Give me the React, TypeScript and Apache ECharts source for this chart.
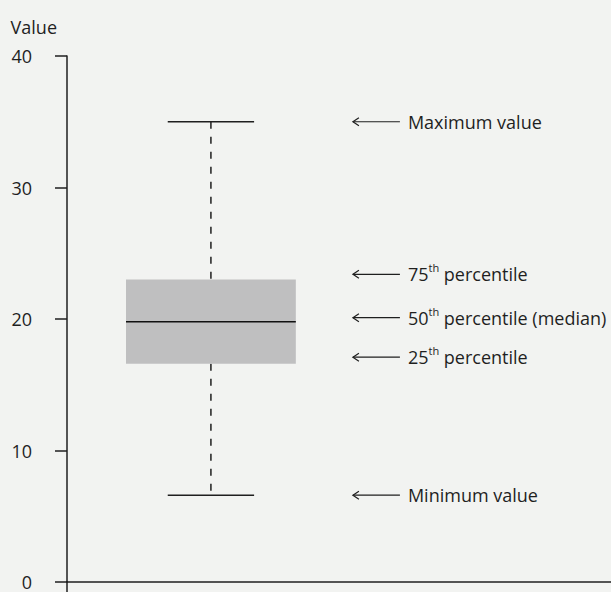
import React, { useEffect, useRef } from "react";
import * as echarts from "echarts";

const xRange = { min: 0, max: 3.78 };
const yTicks = { min: 0, max: 40, interval: 10 };
// [x position, min, q1, median, q3, max]
const boxStats = [[1, 6.6, 16.6, 19.8, 23.0, 35.0]];
const annotationValues = [35.0, 23.4, 20.1, 17.1, 6.6];
const annotationOrdinals = ["", "75", "50", "25", ""];
const annotationTexts = [
  "Maximum value",
  " percentile",
  " percentile (median)",
  " percentile",
  "Minimum value",
];
const axisName = "Value";

const INK = "#1f1f1f";
const BG = "#f2f3f1";
const FONT = "'Open Sans', 'Noto Sans', sans-serif";

export default function App() {
  const ref = useRef<HTMLDivElement>(null);
  useEffect(() => {
    document.body.style.margin = "0";
    const chart = echarts.init(ref.current!, null, { renderer: "svg" });
    const option: any = {
      animation: false,
      backgroundColor: BG,
      color: [INK],
      textStyle: { fontFamily: FONT, color: INK },
      grid: { left: 67, right: 0, top: 56, bottom: 10 },
      xAxis: {
        type: "value",
        min: xRange.min,
        max: xRange.max,
        axisLine: { show: true, onZero: false, lineStyle: { color: INK, width: 1.5 } },
        axisTick: { show: false },
        axisLabel: { show: false },
        splitLine: { show: false },
      },
      yAxis: {
        type: "value",
        min: yTicks.min,
        max: yTicks.max,
        interval: yTicks.interval,
        name: axisName,
        nameLocation: "end",
        nameGap: 29,
        nameTextStyle: {
          color: INK,
          fontSize: 18,
          fontFamily: FONT,
          align: "right",
          verticalAlign: "middle",
          padding: [0, 10, 0, 0],
        },
        axisLine: { show: true, onZero: false, lineStyle: { color: INK, width: 1.5 } },
        axisTick: { show: true, length: 12, lineStyle: { color: INK, width: 1.5 } },
        axisLabel: { color: INK, fontSize: 18, fontFamily: FONT, margin: 35 },
        splitLine: { show: false },
      },
      graphic: [
        {
          type: "line",
          shape: { x1: 67, y1: 581, x2: 67, y2: 592 },
          style: { stroke: INK, lineWidth: 1.5 },
        },
      ],
      series: [
        {
          type: "custom",
          data: boxStats,
          itemStyle: { color: INK },
          encode: { x: 0, y: [1, 2, 3, 4, 5] },
          renderItem: (params: any, api: any) => {
            const xv = api.value(0);
            const boxHalf = api.size([1.18, 0])[0] / 2;
            const capHalf = api.size([0.6, 0])[0] / 2;
            const pMin = api.coord([xv, api.value(1)]);
            const pQ1 = api.coord([xv, api.value(2)]);
            const pMed = api.coord([xv, api.value(3)]);
            const pQ3 = api.coord([xv, api.value(4)]);
            const pMax = api.coord([xv, api.value(5)]);
            const cx = pMed[0];
            return {
              type: "group",
              children: [
                {
                  type: "line",
                  shape: { x1: cx, y1: pMax[1], x2: cx, y2: pQ3[1] },
                  style: { stroke: INK, lineWidth: 1.5, lineDash: [7, 8] },
                },
                {
                  type: "line",
                  shape: { x1: cx, y1: pQ1[1], x2: cx, y2: pMin[1] },
                  style: { stroke: INK, lineWidth: 1.5, lineDash: [7, 8] },
                },
                {
                  type: "rect",
                  shape: {
                    x: cx - boxHalf,
                    y: pQ3[1],
                    width: boxHalf * 2,
                    height: pQ1[1] - pQ3[1],
                  },
                  style: { fill: "#bfbfc0", stroke: "none" },
                },
                {
                  type: "line",
                  shape: { x1: cx - boxHalf, y1: pMed[1], x2: cx + boxHalf, y2: pMed[1] },
                  style: { stroke: "#111", lineWidth: 1.5 },
                },
                {
                  type: "line",
                  shape: { x1: cx - capHalf, y1: pMax[1], x2: cx + capHalf, y2: pMax[1] },
                  style: { stroke: INK, lineWidth: 1.5 },
                },
                {
                  type: "line",
                  shape: { x1: cx - capHalf, y1: pMin[1], x2: cx + capHalf, y2: pMin[1] },
                  style: { stroke: INK, lineWidth: 1.5 },
                },
              ],
            };
          },
        },
        {
          type: "custom",
          itemStyle: { color: INK },
          data: annotationValues.map((v) => [boxStats[0][0], v]),
          encode: { x: 0, y: 1 },
          renderItem: (params: any, api: any) => {
            const i = params.dataIndex;
            const p = api.coord([api.value(0), api.value(1)]);
            const x0 = p[0] + 142;
            const y = p[1];
            const ord = annotationOrdinals[i];
            const txt = ord
              ? `{n|${ord}}{s|th}{n|${annotationTexts[i]}}`
              : `{n|${annotationTexts[i]}}`;
            return {
              type: "group",
              children: [
                {
                  type: "line",
                  shape: { x1: x0, y1: y, x2: x0 + 47, y2: y },
                  style: { stroke: INK, lineWidth: 1.2 },
                },
                {
                  type: "polyline",
                  shape: { points: [[x0 + 6, y - 4], [x0, y], [x0 + 6, y + 4]] },
                  style: { stroke: INK, lineWidth: 1.2, fill: "none" },
                },
                {
                  type: "text",
                  x: x0 + 55,
                  y: y,
                  style: {
                    text: txt,
                    fill: INK,
                    fontFamily: FONT,
                    fontSize: 18,
                    verticalAlign: "middle",
                    align: "left",
                    rich: {
                      n: { fontSize: 18, fontFamily: FONT, fill: INK, lineHeight: 24 },
                      s: {
                        fontSize: 11,
                        fontFamily: FONT,
                        fill: INK,
                        lineHeight: 14,
                        verticalAlign: "top",
                      },
                    },
                  },
                },
              ],
            };
          },
        },
      ],
    };
    chart.setOption(option);
    return () => chart.dispose();
  }, []);
  return <div ref={ref} style={{ width: 611, height: 592, background: BG }} />;
}
